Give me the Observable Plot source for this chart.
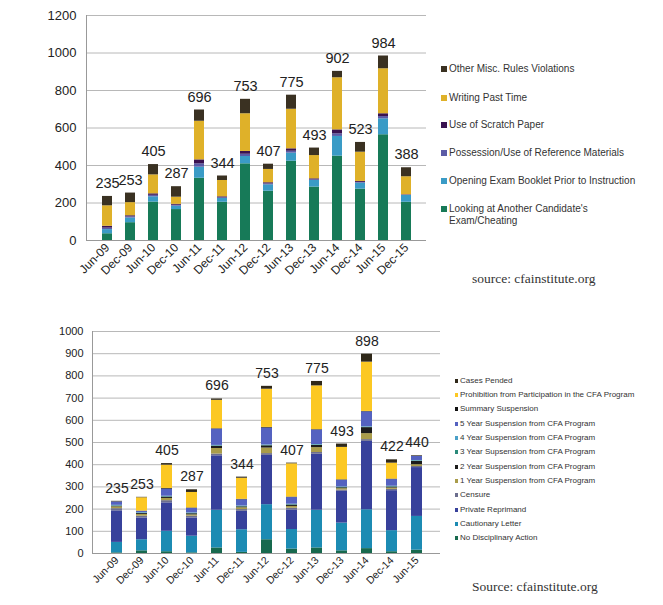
<!DOCTYPE html>
<html><head><meta charset="utf-8">
<script src="https://cdn.jsdelivr.net/npm/d3@7"></script>
<script src="https://cdn.jsdelivr.net/npm/@observablehq/plot@0.6"></script>
<style>
body{margin:0;background:#fff;font-family:"Liberation Sans",Arial,sans-serif;}
#wrap{position:relative;width:663px;height:605px;overflow:hidden;background:#fff}
.chart{position:absolute;left:0}
.leg{position:absolute;color:#333;white-space:nowrap;line-height:1.15}
.sw{display:inline-block;vertical-align:middle;margin-right:2px}
.src{position:absolute;font-family:"Liberation Serif","Times New Roman",serif;color:#333;white-space:nowrap}
</style></head>
<body><div id="wrap"></div>
<script>
// ---------- Top chart data ----------
const periodsTop = ["Jun-09","Dec-09","Jun-10","Dec-10","Jun-11","Dec-11","Jun-12","Dec-12","Jun-13","Dec-13","Jun-14","Dec-14","Jun-15","Dec-15"];
const catsTop = ["Looking at Another Candidate's Exam/Cheating","Opening Exam Booklet Prior to Instruction","Possession/Use of Reference Materials","Use of Scratch Paper","Writing Past Time","Other Misc. Rules Violations"];
const colorsTop = ["#177a58","#3a9bc6","#5b5ba6","#3a1250","#dfb129","#3a3122"];
const looking    = [36, 95,205,165,332,204,409,263,423,285,450,274,564,204];
const opening    = [22, 25, 28, 18, 59, 20, 39, 34, 43, 35,105, 32, 85, 36];
const possession = [ 8,  6,  8,  5, 18,  4, 12,  5, 10,  4, 14,  4, 12,  2];
const scratch    = [10,  6,  8,  5, 21,  5, 15,  6, 13,  5, 21,  5, 15,  2];
const writing    = [109,70,101, 38,206, 87,201, 71,211,124,278,156,240, 96];
const otherMisc  = [50, 51, 55, 56, 60, 24, 77, 28, 75, 40, 34, 52, 68, 48];
const totalsTop  = [235,253,405,287,696,344,753,407,775,493,902,523,984,388];
const yTicksTop  = [0,200,400,600,800,1000,1200];

// ---------- Bottom chart data ----------
const periodsBot = ["Jun-09","Dec-09","Jun-10","Dec-10","Jun-11","Dec-11","Jun-12","Dec-12","Jun-13","Dec-13","Jun-14","Dec-14","Jun-15"];
const catsBot = ["No Disciplinary Action","Cautionary Letter","Private Reprimand","Censure","1 Year Suspension from CFA Program","2 Year Suspension from CFA Program","3 Year Supsension from CFA Program","4 Year Suspension from CFA Program","5 Year Suspension from CFA Program","Summary Suspension","Prohibition from Participation in the CFA Program","Cases Pended"];
const colorsBot = ["#17694e","#1c8bb3","#37419b","#6c6e8e","#a99c4a","#1c1c1c","#2a8a7a","#4aa0c8","#5462c0","#111111","#fcc823","#2f2819"];
const noDisc    = [ 3, 12,  8,  3, 25,  5, 62, 20, 25, 12, 22,  8, 15];
const caution   = [47, 50, 92, 75,170,102,158, 88,170,125,175, 95,152];
const privRep   = [142,98,128, 82,245, 83,222, 88,252,143,308,180,220];
const censure   = [10,  8, 10,  8,  8,  8,  8,  8,  8,  6,  8,  6,  5];
const susp1     = [ 8,  8, 10,  6, 25,  8, 25,  8, 22,  6, 27,  6,  8];
const susp2     = [ 3,  4,  6,  5, 10,  4, 10,  6, 10,  4, 27,  4, 15];
const susp3     = [ 2,  2,  2,  2,  2,  2,  2,  2,  2,  2,  2,  2,  2];
const susp4     = [ 2,  2,  2,  2,  2,  2,  2,  2,  2,  2,  2,  2,  2];
const susp5     = [15,  6, 32, 20, 73, 28, 76, 30, 65, 30, 67, 30, 18];
const summary   = [ 1,  1,  3,  2,  2,  2,  3,  2,  2,  2,  2,  2,  0];
const prohib    = [ 0, 60,105, 70,128, 95,172,150,197,146,222, 72,  0];
const pended    = [ 2,  2,  7, 12,  6,  5, 13,  3, 20, 15, 36, 15,  3];
const totalsBot = [235,253,405,287,696,344,753,407,775,493,898,422,440];
const yTicksBot = [0,100,200,300,400,500,600,700,800,900,1000];

function longForm(periods, cats, series){
  const out = [];
  periods.forEach((p,i)=>cats.forEach((c,j)=>out.push({period:p, cat:c, value:series[j][i]})));
  return out;
}
const dataTop = longForm(periodsTop, catsTop, [looking,opening,possession,scratch,writing,otherMisc]);
const dataBot = longForm(periodsBot, catsBot, [noDisc,caution,privRep,censure,susp1,susp2,susp3,susp4,susp5,summary,prohib,pended]);
const totTop = periodsTop.map((p,i)=>({period:p,total:totalsTop[i]}));
const totBot = periodsBot.map((p,i)=>({period:p,total:totalsBot[i]}));

const wrap = document.getElementById("wrap");
const FF = '"Liberation Sans",Arial,sans-serif';

// ---------- Top chart ----------
const chartTop = Plot.plot({
  width:663, height:295, marginLeft:86, marginRight:237, marginTop:15, marginBottom:55,
  style:{fontFamily:FF, fontSize:"11px", color:"#222", background:"transparent"},
  x:{domain:periodsTop, padding:0.57, label:null},
  y:{domain:[0,1200], label:null},
  color:{domain:catsTop, range:colorsTop},
  marks:[
    Plot.gridY(yTicksTop, {stroke:"#b8b8b8", strokeOpacity:1, strokeWidth:1}),
    Plot.barY(dataTop, {x:"period", y:"value", fill:"cat"}),
    Plot.text(totTop, {x:"period", y:"total", text:d=>String(d.total), dy:-13, fontSize:14.5, fill:"#222"}),
    Plot.frame({anchor:"left", stroke:"#999"}),
    Plot.ruleY([0], {stroke:"#999"}),
    Plot.axisY({ticks:yTicksTop, tickFormat:d=>String(d), tickSize:0, tickPadding:10, fontSize:13, label:null}),
    Plot.axisX({tickRotate:-45, tickSize:0, tickPadding:5, fontSize:12, label:null})
  ]
});
chartTop.classList.add("chart"); chartTop.style.top = "0px";
wrap.appendChild(chartTop);

// ---------- Bottom chart ----------
const chartBot = Plot.plot({
  width:663, height:300, marginLeft:92, marginRight:223, marginTop:26, marginBottom:52,
  style:{fontFamily:FF, fontSize:"10.5px", color:"#222", background:"transparent"},
  x:{domain:periodsBot, padding:0.56, label:null},
  y:{domain:[0,1000], label:null},
  color:{domain:catsBot, range:colorsBot},
  marks:[
    Plot.gridY(yTicksBot, {stroke:"#b8b8b8", strokeOpacity:1, strokeWidth:1}),
    Plot.barY(dataBot, {x:"period", y:"value", fill:"cat"}),
    Plot.text(totBot, {x:"period", y:"total", text:d=>String(d.total), dy:-13, fontSize:14, fill:"#222"}),
    Plot.frame({anchor:"left", stroke:"#999"}),
    Plot.ruleY([0], {stroke:"#999"}),
    Plot.axisY({ticks:yTicksBot, tickFormat:d=>String(d), tickSize:0, tickPadding:9, fontSize:11, label:null}),
    Plot.axisX({tickRotate:-45, tickSize:0, tickPadding:5, fontSize:10.5, label:null})
  ]
});
chartBot.classList.add("chart"); chartBot.style.top = "305px";
wrap.appendChild(chartBot);

// ---------- Legends ----------
const legTopOrder = [5,4,3,2,1,0];
const topLabels = ["Other Misc. Rules Violations","Writing Past Time","Use of Scratch Paper","Possession/Use of Reference Materials","Opening Exam Booklet Prior to Instruction","Looking at Another Candidate's<br>Exam/Cheating"];
[69,97.5,125,153,181,209].forEach((y,i)=>{
  const k = legTopOrder[i];
  const div = document.createElement("div");
  div.className = "leg";
  div.style.left = "441px"; div.style.fontSize = "10px";
  div.style.top = (y - 6) + "px";
  div.style.display = "flex"; div.style.alignItems = "flex-start";
  div.innerHTML = `<span class="sw" style="width:6px;height:6px;background:${colorsTop[k]};margin-top:3px;margin-right:2px;flex:none"></span><span>${topLabels[i]}</span>`;
  wrap.appendChild(div);
});
const legBotOrder = [11,10,9,8,7,6,5,4,3,2,1,0];
legBotOrder.forEach((k,i)=>{
  const y = 380.7 + i*14.33;
  const div = document.createElement("div");
  div.className = "leg";
  div.style.left = "455px"; div.style.fontSize = "8px";
  div.style.top = (y - 5) + "px";
  div.innerHTML = `<span class="sw" style="width:3px;height:4px;background:${colorsBot[k]};margin-right:2px"></span>${catsBot[k]}`;
  wrap.appendChild(div);
});

// sources
const s1 = document.createElement("div");
s1.className = "src"; s1.style.left = "472px"; s1.style.top = "271px"; s1.style.fontSize = "13.5px";
s1.textContent = "source: cfainstitute.org"; wrap.appendChild(s1);
const s2 = document.createElement("div");
s2.className = "src"; s2.style.left = "472px"; s2.style.top = "579px"; s2.style.fontSize = "13.5px";
s2.textContent = "Source: cfainstitute.org"; wrap.appendChild(s2);
</script></body></html>
